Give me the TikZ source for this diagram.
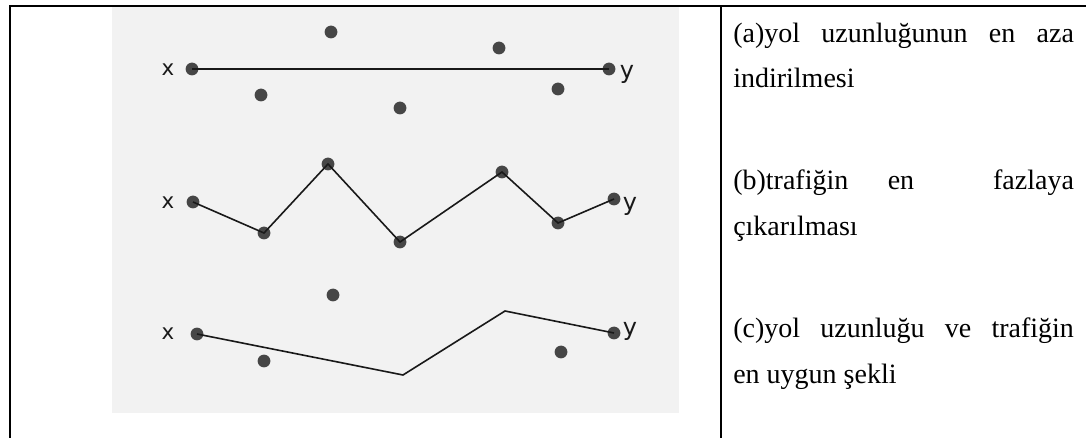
\documentclass[tikz,border=0pt]{standalone}
\usepackage{fontspec}
\setmainfont{Liberation Serif}
\newfontfamily\labelfont{DejaVu Sans}
\definecolor{scangray}{RGB}{242,242,242}
\definecolor{dotgray}{RGB}{70,70,70}
\definecolor{roadcol}{RGB}{25,25,25}
\tikzset{
  rule/.style={line width=1.5pt, black},
  road/.style={line width=1.2pt, roadcol, line join=miter},
  dot/.style={circle, fill=dotgray, inner sep=0pt, minimum size=9.6pt},
  xlabel/.style={font=\labelfont\fontsize{16}{16}\selectfont, text=roadcol, inner sep=0pt},
  ylabel/.style={font=\labelfont\fontsize{18}{18}\selectfont, text=roadcol, inner sep=0pt},
  celltext/.style={anchor=base west, inner sep=0pt, font=\fontsize{21}{25}\selectfont}
}
\begin{document}
\begin{tikzpicture}[x=0.75pt, y=-0.75pt]
\useasboundingbox (0,0) rectangle (1086,438);
\fill[white] (0,0) rectangle (1086,438);

% scanned figure background
\fill[scangray] (112,7) rectangle (679,413);

% table rules
\draw[rule] (9,6) -- (1086,6);
\draw[rule] (10,6) -- (10,438);
\draw[rule] (721,6) -- (721,438);

% ---- route (a): straight line ----
\node[dot] (ax) at (192,69) {};
\node[dot] (ay) at (609,69) {};
\node[dot] (a1) at (331,32) {};
\node[dot] (a2) at (261,95) {};
\node[dot] (a3) at (400,108) {};
\node[dot] (a4) at (499,48) {};
\node[dot] (a5) at (558,89) {};
\draw[road] (ax.center) -- (ay.center);
\node[xlabel] (axl) at (168,70) {x};
\node[ylabel] (ayl) at (627,74) {y};

% ---- route (b): through every stop ----
\node[dot] (bx) at (193,202) {};
\node[dot] (b1) at (264,233) {};
\node[dot] (b2) at (328,164) {};
\node[dot] (b3) at (400,242) {};
\node[dot] (b4) at (502,172) {};
\node[dot] (b5) at (558,223) {};
\node[dot] (by) at (614,199) {};
\draw[road] (bx.center) -- (b1.center) -- (b2.center) -- (b3.center)
  -- (b4.center) -- (b5.center) -- (by.center);
\node[xlabel] (bxl) at (168,203) {x};
\node[ylabel] (byl) at (630,206) {y};

% ---- route (c): compromise ----
\node[dot] (cx) at (197,334) {};
\node[dot] (cy) at (614,333) {};
\node[dot] (c1) at (333,295) {};
\node[dot] (c2) at (264,361) {};
\node[dot] (c3) at (561,352) {};
\coordinate (cb1) at (403,375);
\coordinate (cb2) at (505,311);
\draw[road] (cx.center) -- (cb1) -- (cb2) -- (cy.center);
\node[xlabel] (cxl) at (168,334) {x};
\node[ylabel] (cyl) at (630,331) {y};

% ---- captions ----
\node[celltext] (t1) at (733,43) {\makebox[255.5pt][s]{(a)yol uzunluğunun en aza}};
\node[celltext] (t2) at (733,88) {indirilmesi};
\node[celltext] (t3) at (733,190) {\makebox[255.5pt][s]{(b)trafiğin en\ \ fazlaya}};
\node[celltext] (t4) at (733,236) {çıkarılması};
\node[celltext] (t5) at (733,338) {\makebox[255.5pt][s]{(c)yol uzunluğu ve trafiğin}};
\node[celltext] (t6) at (733,383) {en uygun şekli};
\end{tikzpicture}
\end{document}
